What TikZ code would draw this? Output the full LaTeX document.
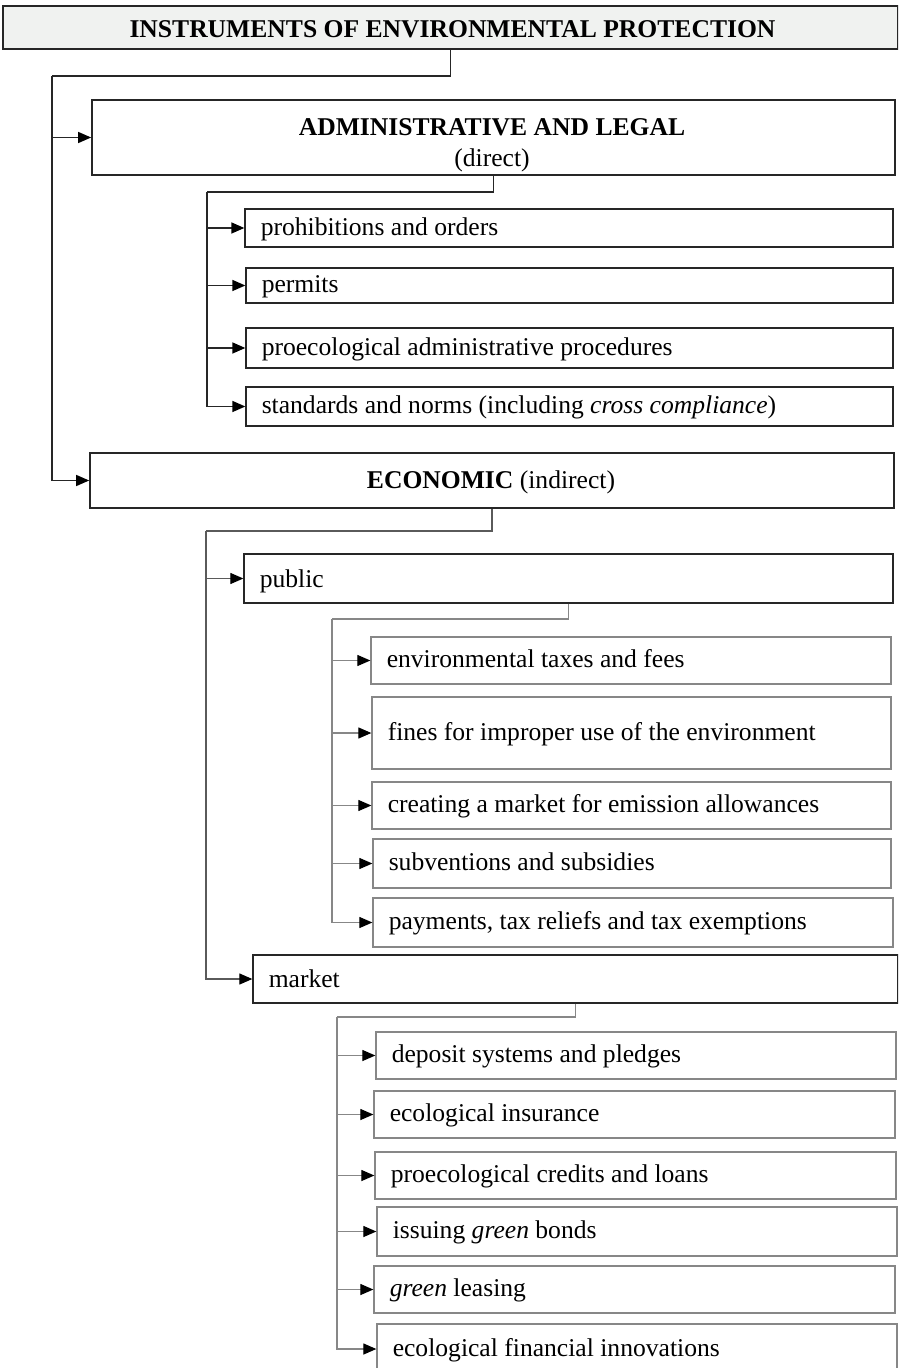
\documentclass[tikz,border=0pt]{standalone}
\usepackage{fontspec}
\setmainfont{Liberation Serif}
\usetikzlibrary{arrows.meta}
\definecolor{titlegray}{RGB}{240,242,240}
\definecolor{dk}{RGB}{38,38,38}
\definecolor{md}{RGB}{90,90,90}
\definecolor{gy}{RGB}{135,135,135}
\tikzset{
  dkline/.style={draw=dk, line width=0.7pt},
  mdline/.style={draw=md, line width=0.6pt},
  gyline/.style={draw=gy, line width=0.6pt},
  arr/.style={-{Triangle[length=6.5pt,width=5.5pt,color=black]}},
  titlebox/.style={draw=dk, line width=1pt, fill=titlegray, inner sep=0pt},
  mainbox/.style={draw=dk, line width=0.85pt, inner sep=0pt},
  lvtwo/.style={draw=dk, line width=0.65pt, inner sep=0pt},
  lvthree/.style={draw=gy, line width=0.65pt, inner sep=0pt},
  sz/.style 2 args={minimum width=#1, minimum height=#2},
  ctxt/.style={anchor=base, inner sep=0pt},
  ltwo/.style={anchor=base west, inner sep=0pt, xshift=8pt, yshift=-3.75pt},
  lthree/.style={anchor=base west, inner sep=0pt, xshift=8pt, yshift=-3.5pt}
}
\begin{document}
\begin{tikzpicture}[x=0.5pt, y=-0.5pt, font=\fontsize{12.8pt}{15.5pt}\selectfont]
\useasboundingbox (0,0) rectangle (898,1368);
\clip (0,0) rectangle (898,1368);
\fill[white] (0,0) rectangle (898,1368);

% top level boxes
\node[titlebox, sz={447.5pt}{21.5pt}] (title) at (450.5,27.5) {};
\node[ctxt] (title-t) at (452.5,38) {\textbf{INSTRUMENTS OF ENVIRONMENTAL PROTECTION}};
\node[mainbox, sz={401.5pt}{37.5pt}] (admin) at (493.5,137.5) {};
\node[ctxt] (admin-t1) at (492,136) {\textbf{ADMINISTRATIVE AND LEGAL}};
\node[ctxt] (admin-t2) at (492,167) {(direct)};
\node[mainbox, sz={402pt}{27.5pt}] (econ) at (492,480.5) {};
\node[ctxt] (econ-t) at (491,488) {\textbf{ECONOMIC} (indirect)};

% administrative children
\node[lvtwo, sz={324pt}{19pt}] (prohib) at (569,228) {};
\node[ltwo] (prohib-t) at (prohib.west) {prohibitions and orders};
\node[lvtwo, sz={323.5pt}{17.5pt}] (permits) at (569.5,285.5) {};
\node[ltwo] (permits-t) at (permits.west) {permits};
\node[lvtwo, sz={323.5pt}{20pt}] (proadm) at (569.5,348) {};
\node[ltwo] (proadm-t) at (proadm.west) {proecological administrative procedures};
\node[lvtwo, sz={323.5pt}{19.5pt}] (standards) at (569.5,406.5) {};
\node[ltwo] (standards-t) at (standards.west) {standards and norms (including \textit{cross compliance})};

% economic children
\node[lvtwo, sz={324.5pt}{24.5pt}] (public) at (568.5,578.5) {};
\node[ltwo, yshift=-0.5pt] (public-t) at (public.west) {public};
\node[lvtwo, sz={322.5pt}{24pt}] (market) at (575.5,979) {};
\node[ltwo, yshift=-0.5pt] (market-t) at (market.west) {market};

% public children
\node[lvthree, sz={260pt}{23.5pt}] (taxes) at (631,660.5) {};
\node[lthree] (taxes-t) at (taxes.west) {environmental taxes and fees};
\node[lvthree, sz={259.5pt}{36pt}] (fines) at (631.5,733) {};
\node[lthree] (fines-t) at (fines.west) {fines for improper use of the environment};
\node[lvthree, sz={259.5pt}{23.5pt}] (emission) at (631.5,805.5) {};
\node[lthree] (emission-t) at (emission.west) {creating a market for emission allowances};
\node[lvthree, sz={259pt}{24.5pt}] (subv) at (632,863.5) {};
\node[lthree] (subv-t) at (subv.west) {subventions and subsidies};
\node[lvthree, sz={260pt}{24.5pt}] (payments) at (633,922.5) {};
\node[lthree] (payments-t) at (payments.west) {payments, tax reliefs and tax exemptions};

% market children
\node[lvthree, sz={260pt}{23.5pt}] (deposit) at (636,1055.5) {};
\node[lthree] (deposit-t) at (deposit.west) {deposit systems and pledges};
\node[lvthree, sz={260.5pt}{23.5pt}] (insurance) at (634.5,1114.5) {};
\node[lthree] (insurance-t) at (insurance.west) {ecological insurance};
\node[lvthree, sz={260.5pt}{23.5pt}] (credits) at (635.5,1175.5) {};
\node[lthree] (credits-t) at (credits.west) {proecological credits and loans};
\node[lvthree, sz={260pt}{24.5pt}] (bonds) at (637,1231.5) {};
\node[lthree] (bonds-t) at (bonds.west) {issuing \textit{green} bonds};
\node[lvthree, sz={260.5pt}{23.5pt}] (leasing) at (634.5,1289.5) {};
\node[lthree] (leasing-t) at (leasing.west) {\textit{green} leasing};
\node[lvthree, sz={260pt}{25pt}] (innov) at (637,1349) {};
\node[lthree] (innov-t) at (innov.west) {ecological financial innovations};

% bus coordinates
\coordinate (b0) at (52,76);
\coordinate (b1) at (207,192);
\coordinate (b2) at (206,531);
\coordinate (b3) at (332,619);
\coordinate (b4) at (337,1017);

% connectors
\draw[dkline] (title.south) |- (b0);
\draw[dkline, arr] (b0) |- (admin.west);
\draw[dkline, arr] (b0) |- (econ.west);

\draw[dkline] (admin.south) |- (b1);
\foreach \n in {prohib,permits,proadm,standards}
  \draw[dkline, arr] (b1) |- (\n.west);

\draw[mdline] (econ.south) |- (b2);
\foreach \n in {public,market}
  \draw[mdline, arr] (b2) |- (\n.west);

\draw[gyline] (public.south) |- (b3);
\foreach \n in {taxes,fines,emission,subv,payments}
  \draw[gyline, arr] (b3) |- (\n.west);

\draw[gyline] (market.south) |- (b4);
\foreach \n in {deposit,insurance,credits,bonds,leasing,innov}
  \draw[gyline, arr] (b4) |- (\n.west);
\end{tikzpicture}
\end{document}
